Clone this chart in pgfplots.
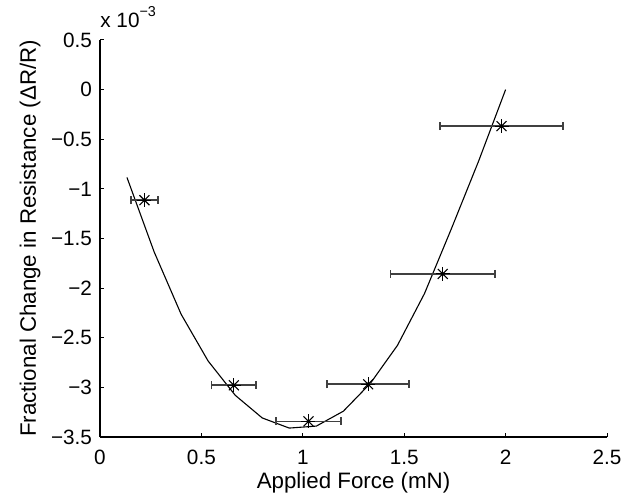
\documentclass[border=0pt]{standalone}
\usepackage{fontspec}
\setmainfont{Liberation Sans}
\usepackage{pgfplots}
\pgfplotsset{compat=1.18}

\newcommand\tickfont{\fontsize{10.4}{12}\selectfont}
\newcommand\labfont{\fontsize{11.2}{13}\selectfont}

\begin{document}
\begin{tikzpicture}
\begin{axis}[
    at={(0,0)}, anchor=south west,
    width=253.5bp, height=198.5bp, scale only axis,
    xmin=0, xmax=2.5, ymin=-3.5, ymax=0.5,
    axis x line*=bottom, axis y line*=left,
    xtick={0,0.5,1,1.5,2,2.5},
    xticklabels={0,0.5,1,1.5,2,2.5},
    ytick={-3.5,-3,-2.5,-2,-1.5,-1,-0.5,0,0.5},
    yticklabels={−3.5,−3,−2.5,−2,−1.5,−1,−0.5,0,0.5},
    tick align=inside, major tick length=2.2bp,
    tick style={black, line width=0.5bp},
    axis line style={black, line width=0.6bp},
    tick label style={font=\tickfont, inner sep=0pt},
    xticklabel style={anchor=base, yshift=-13.5bp},
    yticklabel style={anchor=east, xshift=-3.8bp},
    clip=false,
]

% fitted curve
\addplot[black, line width=0.55bp] coordinates {
    (0.133,-0.885) (0.267,-1.635) (0.400,-2.263) (0.533,-2.734)
    (0.667,-3.080) (0.800,-3.308) (0.933,-3.410) (1.067,-3.390)
    (1.200,-3.240) (1.333,-2.960) (1.467,-2.576) (1.600,-2.055)
    (1.733,-1.400) (1.867,-0.720) (2.000,0.000)
};

% measurements with force error bars
\addplot[black!75, mark=none, draw=none,
    error bars/.cd, x dir=both, x explicit, error mark=|,
    error bar style={black!75, line width=0.8bp},
    error mark options={black!75, line width=0.8bp, mark size=2bp}]
coordinates {
    (0.219,-1.114) +- (0.067,0)
    (0.660,-2.979) +- (0.110,0)
    (1.028,-3.342) +- (0.160,0)
    (1.322,-2.969) +- (0.203,0)
    (1.690,-1.857) +- (0.257,0)
    (1.980,-0.368) +- (0.302,0)
};

\addplot[only marks, mark=+, mark size=3.5bp, black,
    mark options={line width=0.55bp}] coordinates {
    (0.219,-1.114) (0.660,-2.979) (1.028,-3.342)
    (1.322,-2.969) (1.690,-1.857) (1.980,-0.368)
};
\addplot[only marks, mark=x, mark size=3.5bp, black,
    mark options={line width=0.55bp}] coordinates {
    (0.219,-1.114) (0.660,-2.979) (1.028,-3.342)
    (1.322,-2.969) (1.690,-1.857) (1.980,-0.368)
};
\addplot[only marks, mark=*, mark size=0.8bp, black] coordinates {
    (0.219,-1.114) (0.660,-2.979) (1.028,-3.342)
    (1.322,-2.969) (1.690,-1.857) (1.980,-0.368)
};

\node[anchor=base, font=\labfont]
    at ([yshift=-25.5bp]rel axis cs:0.5,0) {Applied Force (mN)};
\node[anchor=base, rotate=90, font=\labfont]
    at ([xshift=-32bp]rel axis cs:0,0.5) {Fractional Change in Resistance (ΔR/R)};
\node[anchor=base west, inner sep=0pt, font=\tickfont]
    at ([yshift=6bp]rel axis cs:0,1)
    {x 10\raisebox{5.5bp}{\fontsize{7.2}{8}\selectfont −3}};
\end{axis}
\pgfresetboundingbox
\path (-50bp,-32bp) rectangle (262bp,218.5bp);
\end{tikzpicture}
\end{document}
